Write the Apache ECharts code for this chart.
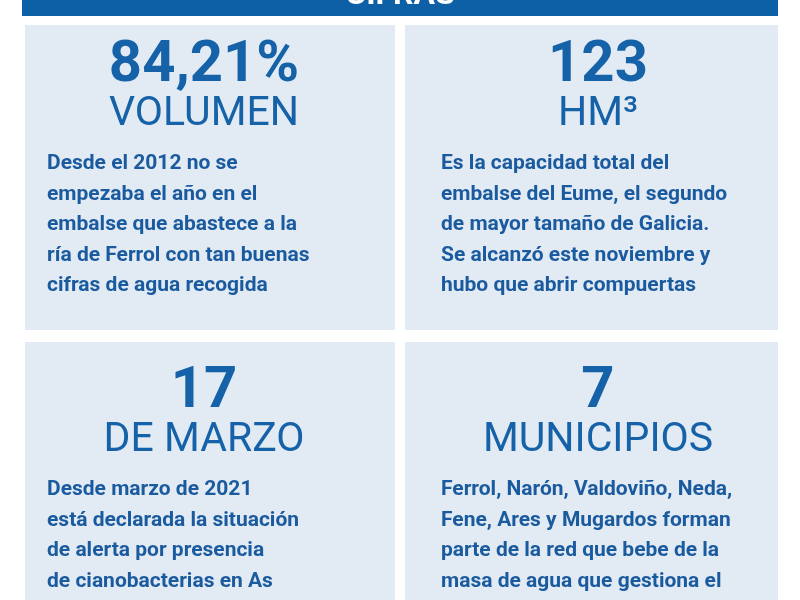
<!DOCTYPE html>
<html><head><meta charset="utf-8">
<script src="https://cdn.jsdelivr.net/npm/echarts@6/dist/echarts.min.js"></script>
<style>html,body{margin:0;padding:0;background:#fff}#c{width:800px;height:600px}</style>
</head><body><div id="c"></div>
<script>
const title = "CIFRAS";
const figures = ["84,21%", "123", "17", "7"];
const units = ["VOLUMEN", "HM³", "DE MARZO", "MUNICIPIOS"];
const descriptions = [
  ["Desde el 2012 no se", "empezaba el año en el", "embalse que abastece a la", "ría de Ferrol con tan buenas", "cifras de agua recogida"],
  ["Es la capacidad total del", "embalse del Eume, el segundo", "de mayor tamaño de Galicia.", "Se alcanzó este noviembre y", "hubo que abrir compuertas"],
  ["Desde marzo de 2021", "está declarada la situación", "de alerta por presencia", "de cianobacterias en As", "Encoras"],
  ["Ferrol, Narón, Valdoviño, Neda,", "Fene, Ares y Mugardos forman", "parte de la red que bebe de la", "masa de agua que gestiona el", "municipio"]
];
const chart = echarts.init(document.getElementById('c'));
const blue = '#1562a8', panel = '#e2eaf3';
const els = [
  {type:'rect', shape:{x:22,y:-5,width:756,height:21}, style:{fill:'#0d5fa6'}},
  {type:'text', style:{text:title, x:400, y:-4, textAlign:'center', textVerticalAlign:'middle', fill:'#fff', font:'bold 32px Roboto'}}
];
const cols = [{x:25,w:370,cx:204,tx:47},{x:405,w:373,cx:598,tx:441}];
const rows = [{y:25,h:305,o:0},{y:342,h:300,o:326}];
figures.forEach((f,i)=>{
  const c = cols[i%2], r = rows[Math.floor(i/2)];
  els.push({type:'rect', shape:{x:c.x,y:r.y,width:c.w,height:r.h}, style:{fill:panel}});
  els.push({type:'text', style:{text:f, x:c.cx, y:66+r.o, textAlign:'center', textVerticalAlign:'middle', fill:blue, font:'bold 58px Roboto'}});
  els.push({type:'text', style:{text:units[i], x:c.cx, y:115+r.o, textAlign:'center', textVerticalAlign:'middle', fill:blue, font:'41px Roboto'}});
  descriptions[i].forEach((l,j)=>{
    els.push({type:'text', style:{text:l, x:c.tx, y:164+r.o+j*30.5, textAlign:'left', textVerticalAlign:'middle', fill:'#1a5a9e', font:'bold 21px Roboto'}});
  });
});
chart.setOption({animation:false, graphic:{elements:els}});
</script></body></html>
